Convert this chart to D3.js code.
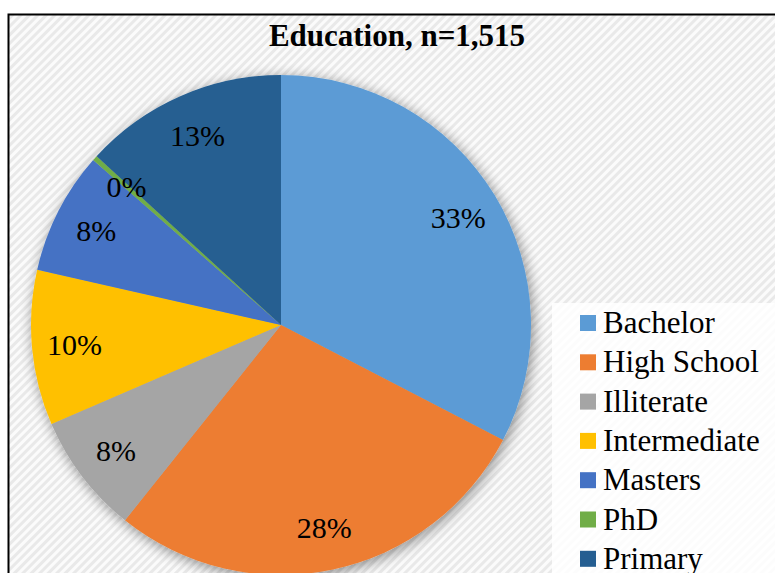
<!DOCTYPE html>
<html>
<head>
<meta charset="utf-8">
<script src="https://cdn.jsdelivr.net/npm/d3@7"></script>
<style>
  body { margin: 0; background: #fff; }
  #vizholder { width: 775px; height: 573px; overflow: hidden; }
  #vizholder text { font-family: "Liberation Serif", LiberationSerif, Tinos, "Times New Roman", Times, "Nimbus Roman", "Nimbus Roman No9 L", FreeSerif, "Noto Serif", "DejaVu Serif", Georgia, serif; }
</style>
</head>
<body>
<div id="vizholder"></div>
<script>
// education levels, counts out of n=1,515
var categories = ["Bachelor", "High School", "Illiterate", "Intermediate", "Masters", "PhD", "Primary"];
var counts = [494, 426, 118, 152, 120, 5, 200];
var colors = ["#5b9bd5", "#ed7d31", "#a5a5a5", "#ffc000", "#4472c4", "#70ad47", "#255e91"];
var title = "Education, n=1,515";

var svg = d3.select("#vizholder").append("svg")
  .attr("width", 775)
  .attr("height", 573);

var defs = svg.append("defs");

var hatch = defs.append("pattern")
  .attr("id", "hatch")
  .attr("patternUnits", "userSpaceOnUse")
  .attr("width", 6)
  .attr("height", 6)
  .attr("patternTransform", "rotate(45)");
hatch.append("rect").attr("width", 6).attr("height", 6).attr("fill", "#fbfbfb");
hatch.append("rect").attr("width", 3).attr("height", 6).attr("fill", "#e9e9e9");

var shadow = defs.append("filter")
  .attr("id", "shadow")
  .attr("x", "-20%").attr("y", "-20%")
  .attr("width", "140%").attr("height", "140%");
shadow.append("feGaussianBlur").attr("in", "SourceAlpha").attr("stdDeviation", 7).attr("result", "blur");
shadow.append("feOffset").attr("in", "blur").attr("dx", 2).attr("dy", 3).attr("result", "off");
shadow.append("feComponentTransfer").attr("in", "off").attr("result", "soft")
  .append("feFuncA").attr("type", "linear").attr("slope", 0.45);
var merge = shadow.append("feMerge");
merge.append("feMergeNode").attr("in", "soft");
merge.append("feMergeNode").attr("in", "SourceGraphic");

// chart area with border
svg.append("rect")
  .attr("x", 8.5).attr("y", 14.5)
  .attr("width", 780).attr("height", 580)
  .attr("fill", "url(#hatch)")
  .attr("stroke", "#000")
  .attr("stroke-width", 2);

svg.append("text")
  .attr("x", 397)
  .attr("y", 46)
  .attr("text-anchor", "middle")
  .attr("font-weight", "bold")
  .attr("font-size", 31)
  .text(title);

var cx = 281, cy = 325, radius = 250;
var total = d3.sum(counts);

var pie = d3.pie().sort(null).value(function(d) { return d; });
var arcs = pie(counts);

var arc = d3.arc().innerRadius(0).outerRadius(radius);
var labelArc = d3.arc().innerRadius(radius * 0.83).outerRadius(radius * 0.83);

var g = svg.append("g")
  .attr("transform", "translate(" + cx + "," + cy + ")");

g.append("g")
  .attr("filter", "url(#shadow)")
  .selectAll("path")
  .data(arcs)
  .enter()
  .append("path")
  .attr("d", arc)
  .attr("fill", function(d, i) { return colors[i]; });

g.selectAll(".lbl")
  .data(arcs)
  .enter()
  .append("text")
  .attr("class", "lbl")
  .attr("transform", function(d) { return "translate(" + labelArc.centroid(d) + ")"; })
  .attr("text-anchor", "middle")
  .attr("dy", "0.35em")
  .attr("font-size", 30)
  .attr("fill", "#000")
  .text(function(d) { return d3.format(".0%")(d.data / total); });

// legend
var legend = svg.append("g");
legend.append("rect")
  .attr("x", 552).attr("y", 303)
  .attr("width", 240).attr("height", 290)
  .attr("fill", "#fff")
  .attr("fill-opacity", 0.85);

var item = legend.selectAll(".item")
  .data(categories)
  .enter()
  .append("g")
  .attr("class", "item")
  .attr("transform", function(d, i) { return "translate(580," + (323 + i * 39.3) + ")"; });

item.append("rect")
  .attr("x", 0).attr("y", -8)
  .attr("width", 16).attr("height", 16)
  .attr("fill", function(d, i) { return colors[i]; });

item.append("text")
  .attr("x", 23)
  .attr("y", 10)
  .attr("font-size", 31)
  .text(function(d) { return d; });
</script>
</body>
</html>
